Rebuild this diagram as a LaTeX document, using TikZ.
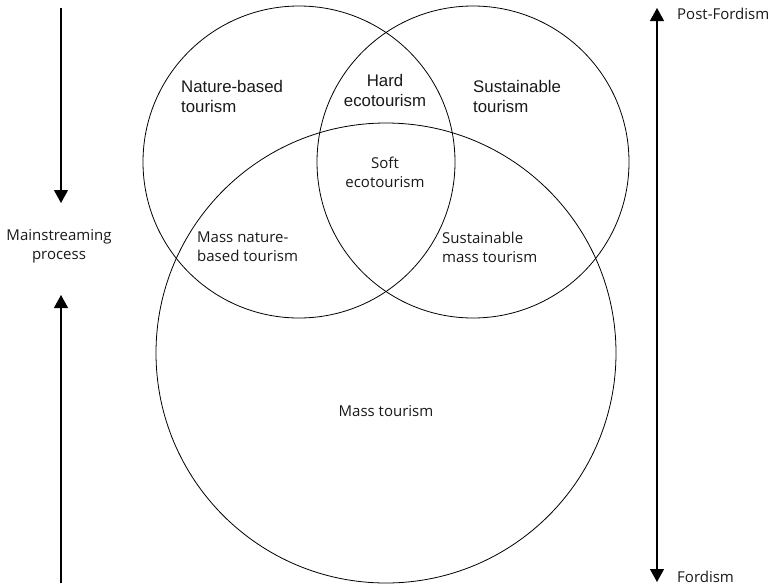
\documentclass[tikz,border=0pt]{standalone}
\usepackage{fontspec}
\setmainfont{Liberation Sans}
\newfontfamily\humanist{Open Sans}
\usetikzlibrary{arrows.meta}
\begin{document}
\begin{tikzpicture}[x=1pt,y=-1pt,
  ring/.style={draw, circle, inner sep=0pt, line width=0.8pt},
  arr/.style={line width=1.2pt, -{Triangle[width=14pt,length=13pt]}},
  darr/.style={line width=1.2pt, {Triangle[width=14pt,length=13pt]}-{Triangle[width=14pt,length=13pt]}},
  lblA/.style={font=\fontsize{16.8}{20}\selectfont, inner sep=0pt, text=black!90},
  lblB/.style={font=\humanist\fontsize{15}{19}\selectfont, inner sep=0pt, text=black!90}]
\useasboundingbox (0,0) rectangle (773,587);

% three overlapping sets
\node[ring, minimum size=312pt] (nature) at (299,162) {};
\node[ring, minimum size=312pt] (sustain) at (473,162) {};
\node[ring, minimum size=460pt] (mass) at (386,353) {};

% region labels
\node[lblA, anchor=west, align=left] (nb) at (181,96) {Nature-based\\tourism};
\node[lblA, align=center] (hard) at (385,90) {Hard\\ecotourism};
\node[lblA, anchor=west, align=left] (st) at (473,96) {Sustainable\\tourism};
\node[lblB, align=center] (soft) at (385,172) {Soft\\ecotourism};
\node[lblB, anchor=west, align=left] (mnb) at (197,247) {Mass nature-\\based tourism};
\node[lblB, anchor=west, align=left] (smt) at (442,247) {Sustainable\\mass tourism};
\node[lblB] (mt) at (386,411) {Mass tourism};

% mainstreaming process arrows
\node[lblB, align=center] (proc) at (59,246) {Mainstreaming\\process};
\coordinate (dTop) at (61,8);
\coordinate (dTip) at (61,203);
\coordinate (uBot) at (61,583);
\coordinate (uTip) at (61,295);
\draw[arr] (dTop) -- (dTip);
\draw[arr] (uBot) -- (uTip);

% Fordism scale
\coordinate (sTop) at (657,8);
\coordinate (sBot) at (657,582);
\draw[darr] (sBot) -- (sTop);
\node[lblB, anchor=west] (pf) at (677,14) {Post-Fordism};
\node[lblB, anchor=west] (fd) at (677,577) {Fordism};
\end{tikzpicture}
\end{document}
